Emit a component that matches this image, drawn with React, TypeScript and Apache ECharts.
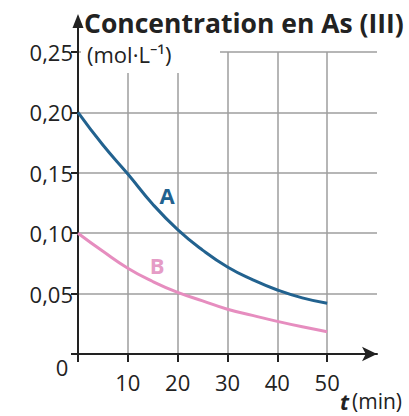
import { useEffect, useRef } from 'react';
import * as echarts from 'echarts';

// ---- data ----
const timeMin = [0, 5, 10, 15, 20, 25, 30, 35, 40, 45, 50];
const concA = [0.2, 0.173, 0.149, 0.124, 0.103, 0.086, 0.072, 0.0615, 0.053, 0.0465, 0.042];
const concB = [0.1, 0.085, 0.071, 0.06, 0.051, 0.044, 0.037, 0.032, 0.027, 0.0225, 0.0185];
const xTickValues = [0, 10, 20, 30, 40, 50];
const xLabelValues = [10, 20, 30, 40, 50];
const yTickLabels = ['0', '0,05', '0,10', '0,15', '0,20', '0,25'];
const curveNames = ['A', 'B'];
const labelAnchorA = [17.9, 0.132];
const labelAnchorB = [15.9, 0.074];
const titleText = 'Concentration en As (III)';
const unitText = '(mol·L⁻¹)';
const xNameVar = 't';
const xNameUnit = '(min)';
const xMax = 60;
const yMax = 0.25;
const yStep = 0.05;

const FONT = '"Open Sans", "Noto Sans", sans-serif';
const INK = '#222222';
const GRID = '#9e9e9e';
const BLUE = '#22628f';
const PINK = '#e68dbf';

export default function App() {
  const ref = useRef<HTMLDivElement>(null);

  useEffect(() => {
    if (!ref.current) return;
    const chart = echarts.init(ref.current, undefined, { renderer: 'svg' });
    const pairs = (ys: number[]) => timeMin.map((t, i) => [t, ys[i]]);

    const option: any = {
      animation: false,
      backgroundColor: '#ffffff',
      grid: { left: 78, top: 52, width: 299, height: 302, containLabel: false },
      xAxis: {
        type: 'value',
        min: 0,
        max: xMax,
        interval: 10,
        axisLine: {
          show: true,
          lineStyle: { color: INK, width: 2 },
          symbol: ['none', 'arrow'],
          symbolSize: [11, 15],
        },
        axisTick: {
          show: true,
          length: 8,
          customValues: xTickValues,
          lineStyle: { color: INK, width: 2 },
        },
        axisLabel: {
          customValues: xLabelValues,
          fontSize: 22,
          lineHeight: 22,
          color: INK,
          fontFamily: FONT,
          margin: 17,
        },
        splitLine: { show: true, lineStyle: { color: GRID, width: 1.5 } },
      },
      yAxis: {
        type: 'value',
        min: 0,
        max: yMax,
        interval: yStep,
        axisLine: { show: true, lineStyle: { color: INK, width: 2 } },
        axisTick: { show: true, length: 7, lineStyle: { color: INK, width: 2 } },
        axisLabel: {
          fontSize: 22,
          color: INK,
          fontFamily: FONT,
          margin: 5,
          formatter: (v: number) => {
            const i = Math.round(v / yStep);
            return i === 0 ? '' : yTickLabels[i];
          },
        },
        splitLine: { show: true, lineStyle: { color: GRID, width: 1.5 } },
      },
      series: [
        {
          name: curveNames[0],
          type: 'line',
          smooth: true,
          showSymbol: false,
          data: pairs(concA),
          lineStyle: { color: BLUE, width: 3 },
          itemStyle: { color: BLUE },
          z: 3,
          markPoint: {
            symbol: 'circle',
            symbolSize: 1,
            itemStyle: { color: 'rgba(0,0,0,0)' },
            label: {
              show: true,
              position: 'inside',
              formatter: curveNames[0],
              color: BLUE,
              fontSize: 22,
              fontWeight: 'bold',
              fontFamily: FONT,
            },
            data: [{ coord: labelAnchorA }],
          },
        },
        {
          name: curveNames[1],
          type: 'line',
          smooth: true,
          showSymbol: false,
          data: pairs(concB),
          lineStyle: { color: PINK, width: 3 },
          itemStyle: { color: PINK },
          z: 3,
          markPoint: {
            symbol: 'circle',
            symbolSize: 1,
            itemStyle: { color: 'rgba(0,0,0,0)' },
            label: {
              show: true,
              position: 'inside',
              formatter: curveNames[1],
              color: '#e59cc6',
              fontSize: 22,
              fontWeight: 'bold',
              fontFamily: FONT,
            },
            data: [{ coord: labelAnchorB }],
          },
        },
      ],
    };
    chart.setOption(option);

    const px = (x: number, y: number) => chart.convertToPixel({ gridIndex: 0 }, [x, y]) as number[];
    const [ox, oy] = px(0, 0);
    const [, ty] = px(0, yMax);
    const [rx] = px(xMax, 0);

    chart.setOption({
      graphic: [
        {
          type: 'rect',
          z: 10,
          shape: { x: ox + 3, y: ty - 16, width: 139, height: 37 },
          style: { fill: '#ffffff' },
        },
        {
          type: 'line',
          z: 10,
          shape: { x1: ox, y1: ty + 1, x2: ox, y2: ty - 28 },
          style: { stroke: INK, lineWidth: 2 },
        },
        {
          type: 'polygon',
          z: 10,
          shape: { points: [[ox, ty - 38], [ox - 5.5, ty - 24], [ox + 5.5, ty - 24]] },
          style: { fill: INK },
        },
        {
          type: 'text',
          z: 11,
          x: ox + 6,
          y: ty - 29,
          style: {
            text: titleText,
            fontSize: 26.5,
            lineHeight: 26,
            fontWeight: 'bold',
            fontFamily: FONT,
            fill: INK,
            align: 'left',
            verticalAlign: 'middle',
          },
        },
        {
          type: 'text',
          z: 11,
          x: ox + 9,
          y: ty + 2,
          style: {
            text: unitText,
            fontSize: 22,
            lineHeight: 22,
            fontFamily: FONT,
            fill: INK,
            align: 'left',
            verticalAlign: 'middle',
          },
        },
        {
          type: 'text',
          z: 11,
          x: ox - 16,
          y: oy + 13,
          style: {
            text: yTickLabels[0],
            fontSize: 22,
            lineHeight: 22,
            fontFamily: FONT,
            fill: INK,
            align: 'center',
            verticalAlign: 'middle',
          },
        },
        {
          type: 'text',
          z: 11,
          x: rx - 37,
          y: oy + 47,
          style: {
            text: xNameVar,
            fontSize: 22,
            lineHeight: 20,
            fontWeight: 'bold',
            fontStyle: 'italic',
            fontFamily: FONT,
            fill: INK,
            align: 'left',
            verticalAlign: 'middle',
          },
        },
        {
          type: 'text',
          z: 11,
          x: rx - 25,
          y: oy + 47,
          style: {
            text: xNameUnit,
            fontSize: 21,
            lineHeight: 20,
            fontFamily: FONT,
            fill: INK,
            align: 'left',
            verticalAlign: 'middle',
          },
        },
      ],
    });

    return () => chart.dispose();
  }, []);

  return (
    <div
      ref={ref}
      style={{ position: 'fixed', left: 0, top: 0, width: 409, height: 416, background: '#fff' }}
    />
  );
}
